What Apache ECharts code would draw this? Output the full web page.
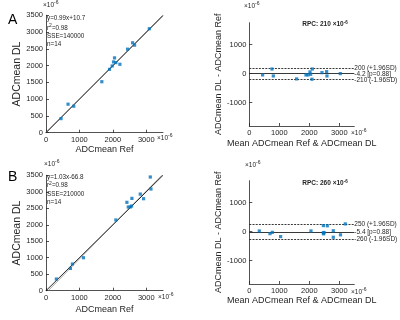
<!DOCTYPE html>
<html>
<head>
<meta charset="utf-8">
<script src="https://cdn.jsdelivr.net/npm/echarts@6/dist/echarts.min.js"></script>
<style>html,body{margin:0;padding:0;background:#fff}#chart{width:400px;height:320px}</style>
</head>
<body>
<div id="chart"></div>
<script>
// panel A: ADCmean Ref vs ADCmean DL
const refA = [450, 660, 830, 1670, 1900, 1980, 2020, 2050, 2090, 2210, 2440, 2590, 2650, 3090]
const dlA = [420, 850, 790, 1520, 1890, 1990, 2110, 2230, 2090, 2040, 2490, 2680, 2610, 3100]
const fitA = [[0, 10.7], [3500, 3475.7]]
const statsA = ["y=0.99x+10.7", "r{s|2}=0.98", "SSE=140000", "n=14"]
// panel A: Bland-Altman
const meanA = [444, 756, 800, 1578, 1889, 1956, 2022, 2044, 2100, 2089, 2422, 2578, 2589, 3033]
const diffA = [-45, 159, -80, -182, -45, -45, 57, -23, 159, -193, 34, 68, -80, 0]
const limitsA = [200, -4.2, -210]
const limitLabelsA = ["200 (+1.96SD)", "-4.2 [p=0.88]", "-210 (-1.96SD)"]
const rpcA = 210

// panel B
const refB = [310, 730, 790, 1120, 2090, 2420, 2460, 2520, 2560, 2570, 2820, 2920, 3120, 3140]
const dlB = [354, 677, 809, 1000, 2145, 2680, 2538, 2538, 2568, 2800, 2930, 2790, 3448, 3084]
const fitB = [[64.9, 0], [3462.9, 3500]]
const statsB = ["y=1.03x-66.8", "r{s|2}=0.98", "SSE=210000", "n=14"]
const meanB = [333, 689, 767, 1044, 2056, 2470, 2467, 2478, 2490, 2600, 2800, 2800, 3040, 3200]
const diffB = [23, -69, -25, -171, 23, 207, -45, -75, -30, 200, 30, -193, -110, 265]
const limitsB = [250, -5.4, -260]
const limitLabelsB = ["250 (+1.96SD)", "-5.4 [p=0.88]", "-260 (-1.96SD)"]
const rpcB = 260

const xTicks = [0, 1000, 2000, 3000]
const yTicksScatter = [0, 500, 1000, 1500, 2000, 2500, 3000, 3500]
const yTicksBA = [-1000, 0, 1000]

const FONT = "Liberation Sans"
const INK = "#262626"
const BLUE = "#0072BD"

function axis(o, ticks, extra, nameSize) {
    return Object.assign({
        type: "value", gridIndex: o, nameLocation: "middle",
        nameTextStyle: { color: INK, fontSize: nameSize || 9, fontFamily: FONT },
        axisLine: { show: true, onZero: false, lineStyle: { color: INK, width: 0.8 } },
        axisTick: { show: true, inside: true, length: 3, customValues: ticks, lineStyle: { color: INK, width: 0.8 } },
        axisLabel: { color: INK, fontSize: 7.5, fontFamily: FONT, margin: 3, customValues: ticks, formatter: v => String(v) },
        splitLine: { show: false }
    }, extra)
}

function pts(xs, ys) { return xs.map((x, i) => [x, ys[i]]) }

function limitLines(vals, labels) {
    return {
        silent: true, symbol: ["none", "none"], animation: false,
        data: vals.map((v, i) => ({
            yAxis: v,
            lineStyle: { color: "#222", width: 0.9, type: i === 1 ? "solid" : [2, 1.2] },
            label: { show: true, position: "end", distance: 0, formatter: labels[i], color: INK, fontSize: 6.5, fontFamily: FONT }
        }))
    }
}

function scatter(x, y, data, ml) {
    const s = { type: "scatter", xAxisIndex: x, yAxisIndex: y, data, symbol: "rect", symbolSize: 3.2, itemStyle: { color: BLUE }, z: 5 }
    if (ml) s.markLine = ml
    return s
}

function line(i, data, color) {
    return { type: "line", xAxisIndex: i, yAxisIndex: i, data, symbol: "none", lineStyle: { color, width: 0.9 }, clip: true }
}

const sup = { s: { fontSize: 5, verticalAlign: "top", padding: [0, 0, 4, 0], color: INK, fontFamily: FONT } }
function txt(x, y, text) {
    return { type: "text", x, y, style: { text, fill: INK, font: "6.3px " + FONT, textVerticalAlign: "middle", rich: sup } }
}
function exp(x, y) {
    return { type: "text", x, y, style: { text: "×10{s|-6}", fill: INK, font: "6.5px " + FONT, textVerticalAlign: "middle", rich: sup } }
}
function rpc(x, y, v) {
    return { type: "text", x, y, style: { text: "RPC: " + v + " ×10{s|-6}", fill: INK, font: "bold 6.5px " + FONT, textAlign: "center", textVerticalAlign: "middle", rich: { s: { fontSize: 4.5, fontWeight: "bold", verticalAlign: "top", padding: [0, 0, 4, 0] } } } }
}

const graphics = [
    { type: "text", x: 8, y: 20, style: { text: "A", fill: "#000", font: "14px " + FONT, textVerticalAlign: "middle" } },
    { type: "text", x: 8, y: 177, style: { text: "B", fill: "#000", font: "14px " + FONT, textVerticalAlign: "middle" } },
    exp(43, 5), exp(157, 138), exp(244, 6), exp(351, 133),
    exp(44, 164), exp(158, 297), exp(245, 165), exp(351, 292),
    rpc(325, 24.5, rpcA), rpc(325, 183.5, rpcB)
]
const yA = [18.6, 28, 36.3, 44.3]
const yB = [177, 185.5, 194, 202.3]
statsA.forEach((t, i) => graphics.push(txt(47, yA[i], t)))
statsB.forEach((t, i) => graphics.push(txt(47, yB[i], t)))

const chart = echarts.init(document.getElementById("chart"), null, { renderer: "canvas" })
chart.setOption({
    animation: false,
    backgroundColor: "#fff",
    grid: [
        { left: 46, top: 15.3, width: 117, height: 117.4 },
        { left: 249.3, top: 22.7, width: 105, height: 103.3 },
        { left: 46, top: 175.3, width: 117, height: 115.4 },
        { left: 249.3, top: 180.7, width: 105, height: 103.3 }
    ],
    xAxis: [
        axis(0, xTicks, { min: 0, max: 3500, name: "ADCmean Ref", nameGap: 12 }),
        axis(1, xTicks, { min: 0, max: 3500, name: "Mean ADCmean Ref & ADCmean DL", nameGap: 13 }),
        axis(2, xTicks, { min: 0, max: 3500, name: "ADCmean Ref", nameGap: 14 }),
        axis(3, xTicks, { min: 0, max: 3500, name: "Mean ADCmean Ref & ADCmean DL", nameGap: 11 })
    ],
    yAxis: [
        axis(0, yTicksScatter, { min: 0, max: 3500, name: "ADCmean DL", nameGap: 19 }, 10.5),
        axis(1, yTicksBA, { min: -1800, max: 1750, name: "ADCmean DL - ADCmean Ref", nameGap: 21 }),
        axis(2, yTicksScatter, { min: 0, max: 3500, name: "ADCmean DL", nameGap: 18 }, 10.5),
        axis(3, yTicksBA, { min: -1800, max: 1750, name: "ADCmean DL - ADCmean Ref", nameGap: 21 })
    ],
    series: [
        line(0, fitA, "#999"),
        line(0, [[0, 0], [3500, 3500]], "#111"),
        scatter(0, 0, pts(refA, dlA)),
        scatter(1, 1, pts(meanA, diffA), limitLines(limitsA, limitLabelsA)),
        line(2, fitB, "#999"),
        line(2, [[0, 0], [3500, 3500]], "#111"),
        scatter(2, 2, pts(refB, dlB)),
        scatter(3, 3, pts(meanB, diffB), limitLines(limitsB, limitLabelsB))
    ],
    graphic: graphics
})
</script>
</body>
</html>
